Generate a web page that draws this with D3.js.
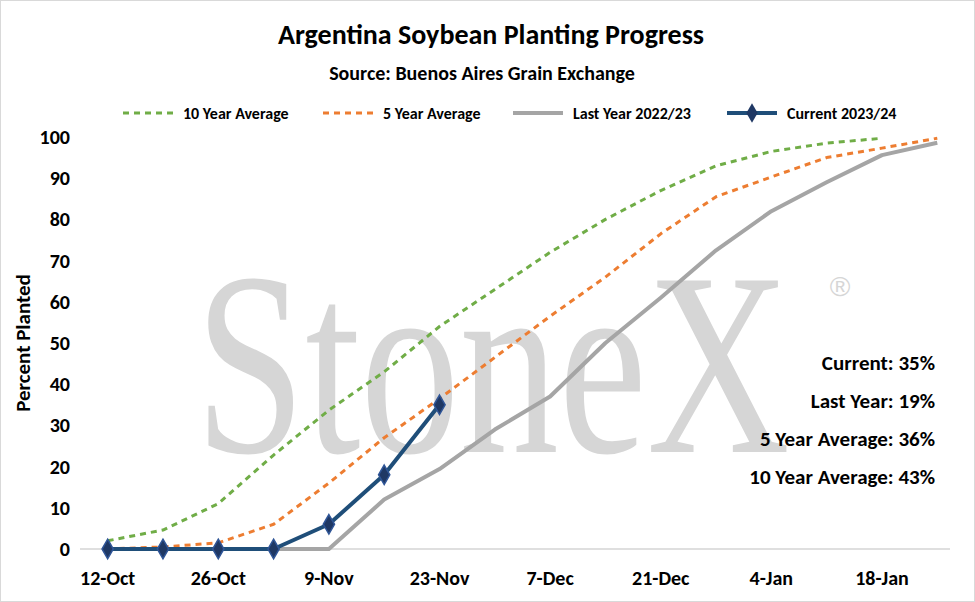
<!DOCTYPE html>
<html><head><meta charset="utf-8">
<script src="https://cdn.jsdelivr.net/npm/d3@7"></script>
<style>body{margin:0;background:#fff}text{font-family:Calibri,Carlito,"Liberation Sans",Arial,sans-serif}</style>
</head><body>
<svg width="975" height="602"></svg>
<script>
const weeks = ["12-Oct","19-Oct","26-Oct","2-Nov","9-Nov","16-Nov","23-Nov","30-Nov","7-Dec","14-Dec","21-Dec","28-Dec","4-Jan","11-Jan","18-Jan","25-Jan"];
const tenYear = [2, 4.6, 11, 22.8, 33.7, 43, 54, 63, 72, 80, 87, 93, 96.5, 98.5, 99.7];
const fiveYear = [0, 0.5, 1.5, 6, 16, 27, 36.5, 46.5, 56.5, 66, 76.5, 85.5, 90.3, 95, 97.3, 99.7];
const lastYear = [0, 0, 0, 0, 0, 12, 19.4, 29, 37, 50, 61, 72.5, 82, 89, 95.6, 98.6];
const current = [0, 0, 0, 0, 6, 18, 35];
const notes = ["Current: 35%","Last Year: 19%","5 Year Average: 36%","10 Year Average: 43%"];

const svg = d3.select("svg");
svg.append("rect").attr("x",0.5).attr("y",0.5).attr("width",974).attr("height",601).attr("fill","#fff").attr("stroke","#d9d9d9");

const x = d3.scaleLinear().domain([-0.5, 15.23]).range([80, 950]);
const y = d3.scaleLinear().domain([0, 100]).range([549, 137]);

// watermark
svg.append("text").attr("x",195).attr("y",452)
  .attr("font-size",262).attr("fill","#d6d6d6").attr("textLength",595).attr("lengthAdjust","spacingAndGlyphs")
  .style("font-family","'Liberation Serif','DejaVu Serif',serif").text("StoneX");
svg.append("text").attr("x",840).attr("y",296).attr("text-anchor","middle").attr("font-size",28)
  .attr("fill","#d6d6d6").style("font-family","'Liberation Sans',sans-serif").text("®");

svg.append("text").attr("x",491).attr("y",44).attr("text-anchor","middle").attr("font-size",28).attr("font-weight","bold").text("Argentina Soybean Planting Progress");
svg.append("text").attr("x",482).attr("y",80).attr("text-anchor","middle").attr("font-size",20).attr("font-weight","bold").text("Source: Buenos Aires Grain Exchange");

// axes
svg.append("line").attr("x1",80).attr("x2",950).attr("y1",y(0)).attr("y2",y(0)).attr("stroke","#bfbfbf");
svg.selectAll(".yt").data(d3.range(0,101,10)).enter().append("text")
  .attr("x",70).attr("y",d=>y(d)+7).attr("text-anchor","end").attr("font-size",20).attr("font-weight","bold").text(d=>d);
svg.selectAll(".xt").data(weeks.map((w,i)=>[w,i]).filter(d=>d[1]%2===0)).enter().append("text")
  .attr("x",d=>x(d[1])).attr("y",585).attr("text-anchor","middle").attr("font-size",20).attr("font-weight","bold").text(d=>d[0]);
svg.append("text").attr("transform","translate(30,343) rotate(-90)").attr("text-anchor","middle")
  .attr("font-size",21).attr("font-weight","bold").text("Percent Planted");

const line = d3.line().x((d,i)=>x(i)).y(d=>y(d));
const series = [
  {v:tenYear, c:"#70ad47", dash:"6,5", w:3, name:"10 Year Average"},
  {v:fiveYear, c:"#ed7d31", dash:"6,5", w:3, name:"5 Year Average"},
  {v:lastYear, c:"#a5a5a5", dash:null, w:4, name:"Last Year 2022/23"},
  {v:current, c:"#1f4e79", dash:null, w:4, name:"Current 2023/24"}
];
series.forEach(s=>{
  svg.append("path").attr("d",line(s.v)).attr("fill","none").attr("stroke",s.c)
    .attr("stroke-width",s.w).attr("stroke-dasharray",s.dash).attr("stroke-linejoin","round");
});
const diamond = d3.symbol().type(d3.symbolDiamond).size(110);
svg.selectAll(".pt").data(current).enter().append("path").attr("d",diamond)
  .attr("transform",(d,i)=>`translate(${x(i)},${y(d)})`).attr("fill","#1f3864").attr("stroke","#2f5597").attr("stroke-width",1.5);

// legend
const lt = [183, 383, 573, 787];
series.forEach((s,i)=>{
  svg.append("line").attr("x1",lt[i]-60).attr("x2",lt[i]-10).attr("y1",113).attr("y2",113)
    .attr("stroke",s.c).attr("stroke-width",s.w).attr("stroke-dasharray",s.dash);
  if(i===3) svg.append("path").attr("d",diamond).attr("transform",`translate(${lt[i]-35},113)`).attr("fill","#1f3864");
  svg.append("text").attr("x",lt[i]).attr("y",119).attr("font-size",16).attr("font-weight","bold").text(s.name);
});

svg.selectAll(".note").data(notes).enter().append("text").attr("x",935).attr("y",(d,i)=>370+i*38)
  .attr("text-anchor","end").attr("font-size",21).attr("font-weight","bold").text(d=>d);
</script>
</body></html>
